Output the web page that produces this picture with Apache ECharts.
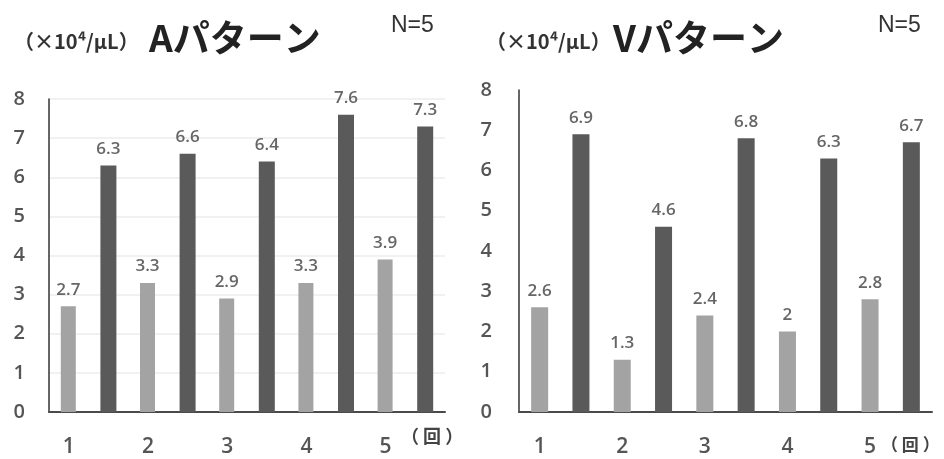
<!DOCTYPE html>
<html>
<head>
<meta charset="utf-8">
<script src="https://cdn.jsdelivr.net/npm/echarts@6/dist/echarts.min.js"></script>
<style>
  html, body { margin: 0; padding: 0; background: #ffffff; }
  #chart { width: 944px; height: 459px; }
</style>
</head>
<body>
<div id="chart"></div>
<script>
// Session numbers (回)
const rounds = ['1', '2', '3', '4', '5'];
const yTicks = [0, 1, 2, 3, 4, 5, 6, 7, 8];

// A pattern: paired values per round (light = first, dark = second)
const aLight = [2.7, 3.3, 2.9, 3.3, 3.9];
const aDark  = [6.3, 6.6, 6.4, 7.6, 7.3];

// V pattern
const vLight = [2.6, 1.3, 2.4, 2.0, 2.8];
const vDark  = [6.9, 4.6, 6.8, 6.3, 6.7];

const LIGHT = '#a3a3a3';
const DARK = '#5a5a5a';
const NUM_FONT = '"Open Sans", "Noto Sans", sans-serif';
const JP_FONT = '"Noto Sans CJK JP", "Noto Sans", sans-serif';
const N_FONT = '"Liberation Sans", Arial, sans-serif';

// Each round takes two slots on the axis: light bar, then dark bar.
function slotLabels() {
  const out = [];
  rounds.forEach(r => { out.push(r); out.push(''); });
  return out;
}
function spreadLight(vals) {
  const out = [];
  vals.forEach(v => { out.push(v); out.push('-'); });
  return out;
}
function spreadDark(vals) {
  const out = [];
  vals.forEach(v => { out.push('-'); out.push(v); });
  return out;
}

const chart = echarts.init(document.getElementById('chart'), null, { renderer: 'canvas' });

function xAxisFor(gridIndex) {
  return {
    type: 'category',
    gridIndex: gridIndex,
    data: slotLabels(),
    axisLine: { show: true, lineStyle: { color: '#4a4a4a', width: 2 } },
    axisTick: { show: false },
    axisLabel: {
      interval: 0, margin: 25, color: '#555', fontSize: 21,
      fontFamily: NUM_FONT, fontWeight: 600
    },
    splitLine: { show: false }
  };
}
function yAxisFor(gridIndex, margin, showGrid) {
  return {
    type: 'value',
    gridIndex: gridIndex,
    min: yTicks[0],
    max: yTicks[yTicks.length - 1],
    interval: 1,
    axisLine: { show: true, lineStyle: { color: '#333', width: 1.5 } },
    axisTick: { show: false },
    axisLabel: {
      margin: margin, color: '#555', fontSize: 20,
      fontFamily: NUM_FONT, fontWeight: 600
    },
    splitLine: { show: showGrid, lineStyle: { color: '#ececec', width: 1.5 } }
  };
}
function barSeries(axisIdx, data, color, width) {
  return {
    type: 'bar',
    xAxisIndex: axisIdx,
    yAxisIndex: axisIdx,
    data: data,
    barWidth: width,
    barGap: '-100%',
    itemStyle: { color: color },
    label: {
      show: true, position: 'top', distance: 8,
      color: '#666', fontSize: 17, fontFamily: NUM_FONT, fontWeight: 600
    },
    emphasis: { disabled: true },
    animation: false
  };
}

chart.setOption({
  animation: false,
  grid: [
    { left: 49, top: 99, width: 396, height: 313 },
    { left: 519, top: 90, width: 413, height: 322 }
  ],
  xAxis: [xAxisFor(0), xAxisFor(1)],
  yAxis: [yAxisFor(0, 24, true), yAxisFor(1, 27, false)],
  series: [
    barSeries(0, spreadLight(aLight), LIGHT, 15),
    barSeries(0, spreadDark(aDark), DARK, 16),
    barSeries(1, spreadLight(vLight), LIGHT, 17),
    barSeries(1, spreadDark(vDark), DARK, 17)
  ],
  graphic: [
    // Left panel headings
    { type: 'text', left: 14, top: 31, style: {
        text: '（×10⁴/μL）', font: 'bold 20px ' + JP_FONT, fill: '#333' } },
    { type: 'text', left: 149, top: 19, style: {
        text: 'Aパターン', font: 'bold 37px ' + JP_FONT, fill: '#222' } },
    { type: 'text', left: 391, top: 14, style: {
        text: 'N=5', font: '23px ' + N_FONT, fill: '#333' } },
    { type: 'text', left: 401, top: 427, style: {
        text: '（ 回 ）', font: 'bold 18px ' + JP_FONT, fill: '#444' } },
    // Right panel headings
    { type: 'text', left: 486, top: 31, style: {
        text: '（×10⁴/μL）', font: 'bold 20px ' + JP_FONT, fill: '#333' } },
    { type: 'text', left: 613, top: 19, style: {
        text: 'Vパターン', font: 'bold 37px ' + JP_FONT, fill: '#222' } },
    { type: 'text', left: 878, top: 14, style: {
        text: 'N=5', font: '23px ' + N_FONT, fill: '#333' } },
    { type: 'text', left: 881, top: 436, style: {
        text: '（ 回 ）', font: 'bold 17px ' + JP_FONT, fill: '#444' } }
  ]
});
</script>
</body>
</html>
